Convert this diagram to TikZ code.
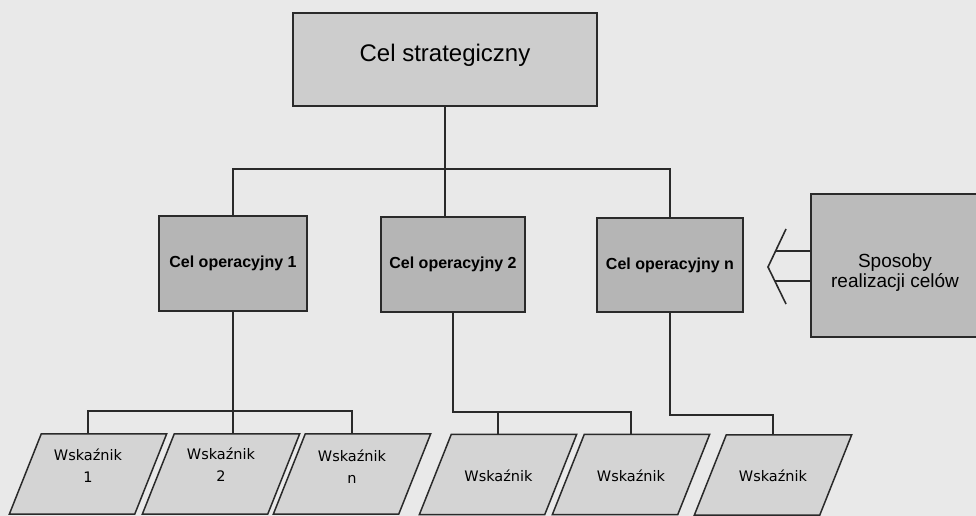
\documentclass[tikz,border=0pt]{standalone}
\usepackage{fontspec}
\setmainfont{Liberation Sans}
\newfontfamily\wfont{DejaVu Sans}
\usetikzlibrary{calc}
\definecolor{pagebg}{HTML}{E9E9E9}
\definecolor{topfill}{HTML}{CDCDCD}
\definecolor{opfill}{HTML}{B5B5B5}
\definecolor{spfill}{HTML}{BBBBBB}
\definecolor{parfill}{HTML}{D4D4D4}
\definecolor{ink}{HTML}{2A2A2A}
\begin{document}
\begin{tikzpicture}[x=1pt,y=-1pt,
  boxstyle/.style={draw=ink, line width=1.7pt, inner sep=0pt},
  topbox/.style={boxstyle, fill=topfill, minimum width=304pt, minimum height=93pt},
  opbox/.style={boxstyle, fill=opfill, minimum height=95pt, font=\fontsize{16}{19}\bfseries\selectfont},
  spbox/.style={boxstyle, fill=spfill, minimum width=169pt, minimum height=143pt},
  pnode/.style={inner sep=0pt, minimum width=125pt, minimum height=80pt},
  pshape/.style={draw=ink, line width=1.5pt, fill=parfill, line join=miter},
  wtext/.style={inner sep=0pt, align=center, font=\wfont\fontsize{14.5}{22}\selectfont},
  conn/.style={draw=ink, line width=1.6pt}]
\useasboundingbox (0,0) rectangle (976,516);
\clip (0,0) rectangle (976,516);
\fill[pagebg] (0,0) rectangle (976,516);

% boxes
\node[topbox] (top) at (445,59.5) {};
\node[anchor=base, inner sep=0pt, font=\fontsize{24}{28}\selectfont] (toptxt) at (445,62) {Cel strategiczny};
\node[opbox, minimum width=148pt] (o1) at (233,263.5) {Cel operacyjny 1};
\node[opbox, minimum width=144pt] (o2) at (453,264.5) {Cel operacyjny 2};
\node[opbox, minimum width=146pt, minimum height=94pt] (on) at (670,265) {Cel operacyjny n};
\node[spbox] (sp) at (895.5,265.5) {};
\node[inner sep=0pt, align=center, font=\fontsize{19}{20.5}\selectfont] (sptxt) at (895,272.6) {Sposoby\\realizacji celów};

% parallelogram frames
\node[pnode] (w1) at (88,474) {};
\node[pnode] (w2) at (221,474) {};
\node[pnode] (w3) at (352,474) {};
\node[pnode] (w4) at (498,474.5) {};
\node[pnode] (w5) at (631,474.5) {};
\node[pnode] (w6) at (773,475) {};
\foreach \n in {w1,w2,w3,w4,w5,w6}{
  \draw[pshape] ($(\n.north west)+(16,0)$) -- ($(\n.north east)+(16,0)$)
    -- ($(\n.south east)+(-16,0)$) -- ($(\n.south west)+(-16,0)$) -- cycle;
}
\node[wtext] (t1) at (88,465.5) {Wskaźnik\\1};
\node[wtext] (t2) at (221,465) {Wskaźnik\\2};
\node[wtext] (t3) at (352,467) {Wskaźnik\\n};
\node[wtext] (t4) at (498.5,475.5) {Wskaźnik};
\node[wtext] (t5) at (631,475.5) {Wskaźnik};
\node[wtext] (t6) at (773,476) {Wskaźnik};

% connectors, upper level
\coordinate (bus) at (445,169);
\draw[conn] (top.south) -- (top.south |- o2.north);
\draw[conn] (o1.north) |- (bus) -| (on.north);

% connectors, lower level
\coordinate (b1) at (233,411);
\draw[conn] (o1.south) -- (o1.south |- w2.north);
\draw[conn] (w1.north) |- (b1) -| (w3.north);
\coordinate (b2) at (453,412);
\draw[conn] (o2.south) -- (b2) -| (w5.north);
\draw[conn] (w4.north) -- (w4.north |- b2);
\coordinate (b3) at (670,415);
\draw[conn] (on.south) -- (b3) -| (w6.north);

% hollow double arrow from Sposoby
\coordinate (tip) at (768,267);
\coordinate (armA) at (786,229);
\coordinate (armB) at (786,304);
\draw[conn] (armA) -- (tip) -- (armB);
\draw[conn] ($(sp.west)+(0,-14.5)$) -- (775.6,251);
\draw[conn] ($(sp.west)+(0,15.5)$) -- (774.8,281);
\end{tikzpicture}
\end{document}
